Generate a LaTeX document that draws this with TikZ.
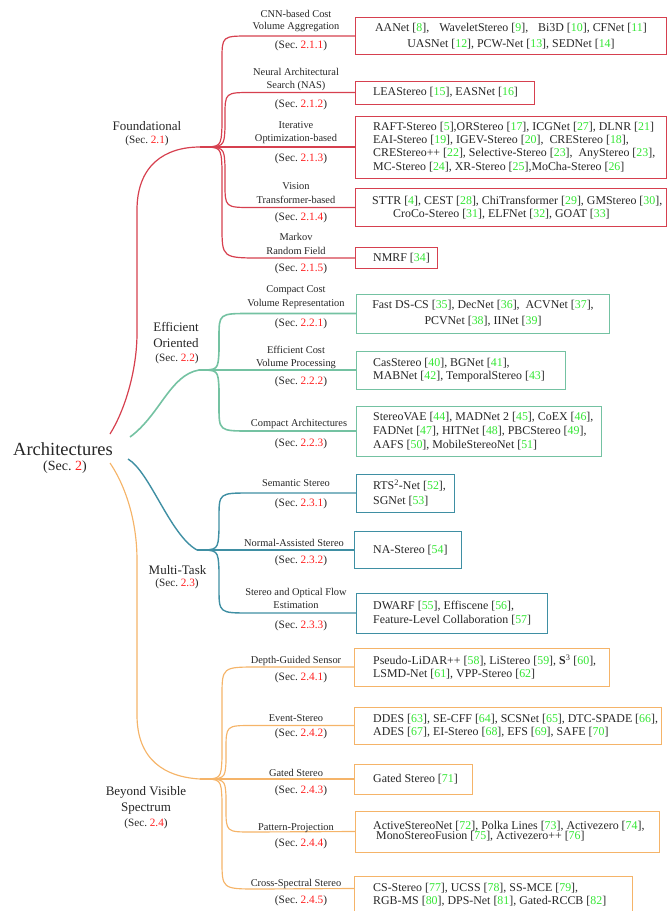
\documentclass[tikz,border=0pt]{standalone}
\usepackage{fontspec}
\setmainfont{Liberation Serif}
\definecolor{cred}{HTML}{D6404F}
\definecolor{cgreen}{HTML}{74C2A2}
\definecolor{cteal}{HTML}{3F8FA3}
\definecolor{corange}{HTML}{F5B469}
\definecolor{citeg}{HTML}{33E633}
\definecolor{secred}{HTML}{FF1F1F}
\definecolor{txt}{HTML}{262626}
\newcommand{\rf}[1]{[\textcolor{citeg}{#1}]}
\newcommand{\sr}[1]{(Sec.~\textcolor{secred}{#1})}
\tikzset{
 redline/.style={draw=cred, line width=1.2pt},
 greenline/.style={draw=cgreen, line width=1.6pt},
 tealline/.style={draw=cteal, line width=1.4pt},
 orangeline/.style={draw=corange, line width=1.15pt},
 boxn/.style={draw, line width=1pt, inner sep=0pt, anchor=west},
 boxtxt/.style={inner sep=0pt, align=left, text=txt, font=\fontsize{11.9}{13.4}\selectfont},
 sublab/.style={inner sep=0pt, anchor=base, text=txt, font=\fontsize{10.4}{12}\selectfont},
 subsec/.style={inner sep=0pt, anchor=base, text=txt, font=\fontsize{11.3}{13}\selectfont},
 catlab/.style={inner sep=0pt, anchor=base, text=txt, font=\fontsize{13}{15}\selectfont},
 catsec/.style={inner sep=0pt, anchor=base, text=txt, font=\fontsize{11.2}{13}\selectfont},
 rootlab/.style={inner sep=0pt, anchor=base, text=txt, font=\fontsize{18.5}{21}\selectfont},
 rootsec/.style={inner sep=0pt, anchor=base, text=txt, font=\fontsize{14}{16}\selectfont},
}
\begin{document}
\begin{tikzpicture}[x=1pt,y=-1pt]
\useasboundingbox (0,0) rectangle (667,911);
\clip (0,0) rectangle (667,911);

% ---------- root and category forks ----------
\node[rootlab] (root) at (63,455) {Architectures};
\node[rootsec] (rootsecn) at (65,470.5) {\sr{2}};
\coordinate (R1) at (110,434);
\coordinate (R2) at (130,437);
\coordinate (R3) at (128,459);
\coordinate (R4) at (110,463);
\coordinate (F1) at (200,147);
\coordinate (F2) at (199,370);
\coordinate (F3) at (197,550);
\coordinate (F4) at (200,779);

\draw[redline] (R1) .. controls (125,410) and (137,370) .. (137,333) -- (137,210) .. controls (137,165) and (165,147) .. (F1);
\draw[greenline] (R2) .. controls (160,415) and (170,375) .. (F2);
\draw[tealline] (R3) .. controls (150,472) and (170,535) .. (F3);
\draw[orangeline] (R4) .. controls (125,485) and (137,520) .. (137,560) -- (137,715) .. controls (137,760) and (165,777) .. (F4);

\node[catlab] (cf1) at (147,130) {Foundational};
\node[catsec] (cf2) at (147,143.5) {\sr{2.1}};
\node[catlab] (ce1) at (176,331.5) {Efficient};
\node[catlab] (ce2) at (176,347) {Oriented};
\node[catsec] (ce3) at (177,361.5) {\sr{2.2}};
\node[catlab] (cm1) at (177.5,574) {Multi-Task};
\node[catsec] (cm2) at (177,586.5) {\sr{2.3}};
\node[catlab] (cb1) at (146,795.5) {Beyond Visible};
\node[catlab] (cb2) at (146,811) {Spectrum};
\node[catsec] (cb3) at (146,826) {\sr{2.4}};

% ---------- boxes: Foundational ----------
\node[boxn, draw=cred, minimum width=311pt, minimum height=37pt] (b211) at (355,36) {};
\node[boxn, draw=cred, minimum width=179pt, minimum height=23pt] (b212) at (355,92.5) {};
\node[boxn, draw=cred, minimum width=311pt, minimum height=62pt] (b213) at (355,147) {};
\node[boxn, draw=cred, minimum width=311pt, minimum height=38pt] (b214) at (355,207.5) {};
\node[boxn, draw=cred, minimum width=82pt, minimum height=21pt] (b215) at (355,258) {};

\node[boxtxt, align=center] (t211) at (b211.center) {AANet \rf{8},\hspace{7pt} WaveletStereo \rf{9},\hspace{7pt} Bi3D \rf{10}, CFNet \rf{11}\\[2.5pt] UASNet \rf{12}, PCW-Net \rf{13}, SEDNet \rf{14}};
\node[boxtxt, anchor=west] (t212) at ([xshift=18pt]b212.west) {LEAStereo \rf{15}, EASNet \rf{16}};
\node[boxtxt, anchor=west] (t213) at ([xshift=18pt]b213.west) {RAFT-Stereo \rf{5},ORStereo \rf{17}, ICGNet \rf{27}, DLNR \rf{21}\\ EAI-Stereo \rf{19}, IGEV-Stereo \rf{20},\ \ CREStereo \rf{18},\\ CREStereo++ \rf{22}, Selective-Stereo \rf{23},\ \ AnyStereo \rf{23},\\ MC-Stereo \rf{24}, XR-Stereo \rf{25},MoCha-Stereo \rf{26}};
\node[boxtxt, anchor=west] (t214) at ([xshift=17pt]b214.west) {STTR \rf{4}, CEST \rf{28}, ChiTransformer \rf{29}, GMStereo \rf{30},\\ \hspace*{21pt}CroCo-Stereo \rf{31}, ELFNet \rf{32}, GOAT \rf{33}};
\node[boxtxt, anchor=west] (t215) at ([xshift=18pt]b215.west) {NMRF \rf{34}};

\draw[redline] (F1) .. controls (221,147) .. (222,126) -- (222,60) .. controls (222,36) .. (250,36) -- (b211.west);
\draw[redline] (F1) .. controls (224,147) .. (225,128) -- (225,116) .. controls (225,92.5) .. (252,92.5) -- (b212.west);
\draw[redline] (F1) -- (b213.west);
\draw[redline] (F1) .. controls (224,147) .. (225,166) -- (225,183) .. controls (225,207.5) .. (252,207.5) -- (b214.west);
\draw[redline] (F1) .. controls (221,147) .. (222,168) -- (222,226) .. controls (222,258) .. (262,258) -- (b215.west);

\node[sublab] (n211a) at (296,17) {CNN-based Cost};
\node[sublab] (n211b) at (296,29.5) {Volume Aggregation};
\node[subsec] (s211) at (301,48.5) {\sr{2.1.1}};
\node[sublab] (n212a) at (296,75.5) {Neural Architectural};
\node[sublab] (n212b) at (296,88.5) {Search (NAS)};
\node[subsec] (s212) at (301,107.5) {\sr{2.1.2}};
\node[sublab] (n213a) at (296,128.5) {Iterative};
\node[sublab] (n213b) at (296,141.5) {Optimization-based};
\node[subsec] (s213) at (301,161.5) {\sr{2.1.3}};
\node[sublab] (n214a) at (296,189.5) {Vision};
\node[sublab] (n214b) at (296,203.5) {Transformer-based};
\node[subsec] (s214) at (301,220.5) {\sr{2.1.4}};
\node[sublab] (n215a) at (296,240.5) {Markov};
\node[sublab] (n215b) at (296,254.5) {Random Field};
\node[subsec] (s215) at (301,271.5) {\sr{2.1.5}};

% ---------- boxes: Efficient ----------
\node[boxn, draw=cgreen, minimum width=253pt, minimum height=39pt] (b221) at (356,313.5) {};
\node[boxn, draw=cgreen, minimum width=209pt, minimum height=38pt] (b222) at (356,370) {};
\node[boxn, draw=cgreen, minimum width=245pt, minimum height=50pt] (b223) at (356,431) {};

\node[boxtxt, align=center] (t221) at (b221.center) {Fast DS-CS \rf{35}, DecNet \rf{36},\ \ ACVNet \rf{37},\\[2.5pt] PCVNet \rf{38}, IINet \rf{39}};
\node[boxtxt, anchor=west] (t222) at ([xshift=17pt]b222.west) {CasStereo \rf{40}, BGNet \rf{41},\\ MABNet \rf{42}, TemporalStereo \rf{43}};
\node[boxtxt, anchor=west] (t223) at ([xshift=17pt]b223.west) {StereoVAE \rf{44}, MADNet 2 \rf{45}, CoEX \rf{46},\\[0.5pt] FADNet \rf{47}, HITNet \rf{48}, PBCStereo \rf{49},\\[0.5pt] AAFS \rf{50}, MobileStereoNet \rf{51}};

\draw[greenline] (F2) .. controls (218,370) .. (219,351) -- (219,338) .. controls (219,313.5) .. (250,313.5) -- (b221.west);
\draw[greenline] (F2) -- (b222.west);
\draw[greenline] (F2) .. controls (218,370) .. (219,389) -- (219,406) .. controls (219,431) .. (250,431) -- (b223.west);

\node[sublab] (n221a) at (296,292.5) {Compact Cost};
\node[sublab] (n221b) at (296,306.5) {Volume Representation};
\node[subsec] (s221) at (301,326.5) {\sr{2.2.1}};
\node[sublab] (n222a) at (296,353.5) {Efficient Cost};
\node[sublab] (n222b) at (296,366.5) {Volume Processing};
\node[subsec] (s222) at (301,384.5) {\sr{2.2.2}};
\node[sublab] (n223a) at (299,426.5) {Compact Architectures};
\node[subsec] (s223) at (301,446.5) {\sr{2.2.3}};

% ---------- boxes: Multi-Task ----------
\node[boxn, draw=cteal, minimum width=98pt, minimum height=38pt] (b231) at (356,493) {};
\node[boxn, draw=cteal, minimum width=107pt, minimum height=37pt] (b232) at (354,550) {};
\node[boxn, draw=cteal, minimum width=191pt, minimum height=40pt] (b233) at (356,613) {};

\node[boxtxt, anchor=west] (t231) at ([xshift=17pt]b231.west) {RTS\textsuperscript{2}-Net \rf{52},\\[1.5pt] SGNet \rf{53}};
\node[boxtxt, anchor=west] (t232) at ([xshift=19pt]b232.west) {NA-Stereo \rf{54}};
\node[boxtxt, anchor=west] (t233) at ([xshift=17pt]b233.west) {DWARF \rf{55}, Effiscene \rf{56},\\ Feature-Level Collaboration \rf{57}};

\draw[tealline] (F3) .. controls (218,550) .. (219,530) -- (219,518) .. controls (219,493) .. (250,493) -- (b231.west);
\draw[tealline] (F3) -- (b232.west);
\draw[tealline] (F3) .. controls (218,550) .. (219,570) -- (219,588) .. controls (219,613) .. (250,613) -- (b233.west);

\node[sublab] (n231a) at (296,486.5) {Semantic Stereo};
\node[subsec] (s231) at (301,506.5) {\sr{2.3.1}};
\node[sublab] (n232a) at (294,546.5) {Normal-Assisted Stereo};
\node[subsec] (s232) at (301,563.5) {\sr{2.3.2}};
\node[sublab] (n233a) at (296,595.5) {Stereo and Optical Flow};
\node[sublab] (n233b) at (296,608.5) {Estimation};
\node[subsec] (s233) at (301,628.5) {\sr{2.3.3}};

% ---------- boxes: Beyond Visible ----------
\node[boxn, draw=corange, minimum width=255pt, minimum height=38pt] (b241) at (354,667) {};
\node[boxn, draw=corange, minimum width=307pt, minimum height=37pt] (b242) at (354,725.5) {};
\node[boxn, draw=corange, minimum width=118pt, minimum height=30pt] (b243) at (354,779) {};
\node[boxn, draw=corange, minimum width=304pt, minimum height=41pt] (b244) at (355,831.5) {};
\node[boxn, draw=corange, minimum width=278pt, minimum height=38pt] (b245) at (354,895) {};

\node[boxtxt, anchor=west] (t241) at ([xshift=19pt]b241.west) {Pseudo-LiDAR++ \rf{58}, LiStereo \rf{59}, \textbf{S}\textsuperscript{3} \rf{60},\\[-0.5pt] LSMD-Net \rf{61}, VPP-Stereo \rf{62}};
\node[boxtxt, anchor=west] (t242) at ([xshift=19pt]b242.west) {DDES \rf{63}, SE-CFF \rf{64}, SCSNet \rf{65}, DTC-SPADE \rf{66},\\ ADES \rf{67}, EI-Stereo \rf{68}, EFS \rf{69}, SAFE \rf{70}};
\node[boxtxt, anchor=west] (t243) at ([xshift=19pt]b243.west) {Gated Stereo \rf{71}};
\node[boxtxt, anchor=west] (t244) at ([xshift=18pt]b244.west) {ActiveStereoNet \rf{72}, Polka Lines \rf{73}, Activezero \rf{74},\\[-3pt] \hspace*{3pt}MonoStereoFusion \rf{75}, Activezero++ \rf{76}};
\node[boxtxt, anchor=west] (t245) at ([xshift=19pt]b245.west) {CS-Stereo \rf{77}, UCSS \rf{78}, SS-MCE \rf{79},\\ RGB-MS \rf{80}, DPS-Net \rf{81}, Gated-RCCB \rf{82}};
\coordinate (e245) at ([yshift=-13pt]b245.north west);

\draw[orangeline] (F4) .. controls (221,779) .. (222,758) -- (222,697) .. controls (222,667) .. (258,667) -- (b241.west);
\draw[orangeline] (F4) .. controls (225,779) .. (226,762) -- (226,750) .. controls (226,725.5) .. (252,725.5) -- (b242.west);
\draw[orangeline] (F4) -- (b243.west);
\draw[orangeline] (F4) .. controls (225,779) .. (226,796) -- (226,808) .. controls (226,832) .. (252,832) -- (b244.west);
\draw[orangeline] (F4) .. controls (221,779) .. (222,800) -- (222,860) .. controls (222,889) .. (258,889) -- (e245);

\node[sublab] (n241a) at (296,663.5) {Depth-Guided Sensor};
\node[subsec] (s241) at (301,680.5) {\sr{2.4.1}};
\node[sublab] (n242a) at (296,721.5) {Event-Stereo};
\node[subsec] (s242) at (301,736.5) {\sr{2.4.2}};
\node[sublab] (n243a) at (296,776.5) {Gated Stereo};
\node[subsec] (s243) at (301,793.5) {\sr{2.4.3}};
\node[sublab] (n244a) at (296,830.5) {Pattern-Projection};
\node[subsec] (s244) at (301,846.5) {\sr{2.4.4}};
\node[sublab] (n245a) at (296,886.5) {Cross-Spectral Stereo};
\node[subsec] (s245) at (301,903.5) {\sr{2.4.5}};
\end{tikzpicture}
\end{document}
